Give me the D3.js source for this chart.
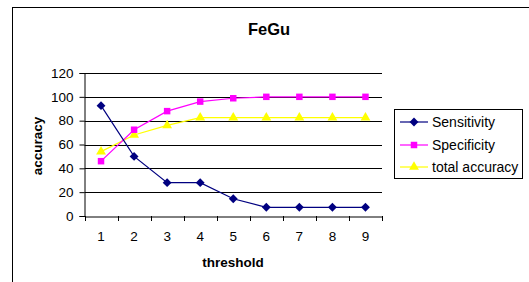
<!DOCTYPE html>
<html><head><meta charset="utf-8">
<script src="https://cdn.jsdelivr.net/npm/d3@7"></script>
<style>html,body{margin:0;padding:0;background:#fff;overflow:hidden}</style>
</head><body>
<svg id="c" width="529" height="282"></svg>
<script>
const categories = ["1","2","3","4","5","6","7","8","9"];
const sensitivity = [92.6, 50, 28, 28, 14.5, 7.3, 7.3, 7.3, 7.3];
const specificity = [46, 72.4, 88, 96, 98.8, 100, 100, 100, 100];
const totalAccuracy = [54, 68, 76, 82.5, 82.5, 82.5, 82.5, 82.5, 82.5];
const yTicks = [0, 20, 40, 60, 80, 100, 120];
const seriesNames = ["Sensitivity", "Specificity", "total accuracy"];

const svg = d3.select("#c");
const font = "'Liberation Sans', Arial, sans-serif";
const L = 84.5, R = 382, T = 73, B = 216;

svg.append("rect").attr("x",12.5).attr("y",7.5).attr("width",530).attr("height",300)
  .attr("fill","#fff").attr("stroke","#000").attr("stroke-width",1);

const x = d3.scaleBand().domain(categories).range([L, R]);
const y = d3.scaleLinear().domain([0,120]).range([B, T]);

// gridlines
svg.append("g").selectAll("line").data(yTicks.filter(d=>d>0)).join("line")
  .attr("x1",L).attr("x2",R).attr("y1",d=>Math.round(y(d))+0.5).attr("y2",d=>Math.round(y(d))+0.5)
  .attr("stroke","#000").attr("stroke-width",1);

// y axis
const ya = svg.append("g").attr("transform",`translate(${L},0)`)
  .call(d3.axisLeft(y).tickValues(yTicks).tickSize(5).tickPadding(6));
ya.select(".domain").attr("stroke","#000");
ya.selectAll("text").attr("font-family",font).attr("font-size",13.5).attr("fill","#000");
ya.selectAll(".tick line").attr("stroke","#000");

// x axis
const xa = svg.append("g").attr("transform",`translate(0,${B+0.5})`)
  .call(d3.axisBottom(x).tickSize(0).tickPadding(15));
xa.select(".domain").attr("stroke","#000");
xa.selectAll("text").attr("font-family",font).attr("font-size",13.5).attr("fill","#000");
svg.append("g").selectAll("line").data(categories.concat(["end"])).join("line")
  .attr("x1",(d,i)=>Math.round(i<categories.length? x(d): R)+0.5)
  .attr("x2",(d,i)=>Math.round(i<categories.length? x(d): R)+0.5)
  .attr("y1",B).attr("y2",B+5).attr("stroke","#000");

// titles
svg.append("text").attr("x",269).attr("y",35).attr("text-anchor","middle")
  .attr("font-family",font).attr("font-weight","bold").attr("font-size",16.5).text("FeGu");
svg.append("text").attr("transform","translate(42,146) rotate(-90)").attr("text-anchor","middle")
  .attr("font-family",font).attr("font-weight","bold").attr("font-size",13.5).text("accuracy");
svg.append("text").attr("x",233).attr("y",267).attr("text-anchor","middle")
  .attr("font-family",font).attr("font-weight","bold").attr("font-size",13.5).text("threshold");

const series = [
  {name: seriesNames[0], values: sensitivity, color: "#000080", sym: d3.symbolDiamond2, size: 50},
  {name: seriesNames[1], values: specificity, color: "#FF00FF", sym: d3.symbolSquare, size: 42},
  {name: seriesNames[2], values: totalAccuracy, color: "#FFFF00", sym: d3.symbolTriangle, size: 42}
];
const cx = d => x(d) + x.bandwidth()/2;
const line = d3.line().x((v,i)=>cx(categories[i])).y(v=>y(v));
series.slice().reverse().forEach(s => {
  svg.append("path").attr("d", line(s.values)).attr("fill","none").attr("stroke",s.color).attr("stroke-width",1.2);
  svg.append("g").selectAll("path").data(s.values).join("path")
    .attr("d", d3.symbol().type(s.sym).size(s.size))
    .attr("transform",(v,i)=>`translate(${cx(categories[i])},${y(v)})`)
    .attr("fill",s.color);
});

// legend
svg.append("rect").attr("x",394.5).attr("y",109.5).attr("width",128).attr("height",69)
  .attr("fill","#fff").attr("stroke","#000");
const ly = [122, 145, 167];
series.forEach((s,i)=>{
  svg.append("line").attr("x1",400).attr("x2",428).attr("y1",ly[i]).attr("y2",ly[i]).attr("stroke",s.color).attr("stroke-width",1.2);
  svg.append("path").attr("d", d3.symbol().type(s.sym).size(s.size)).attr("transform",`translate(414,${ly[i]})`).attr("fill",s.color);
  svg.append("text").attr("x",432).attr("y",ly[i]+5).attr("font-family",font).attr("font-size",14).text(s.name);
});
</script>
</body></html>
